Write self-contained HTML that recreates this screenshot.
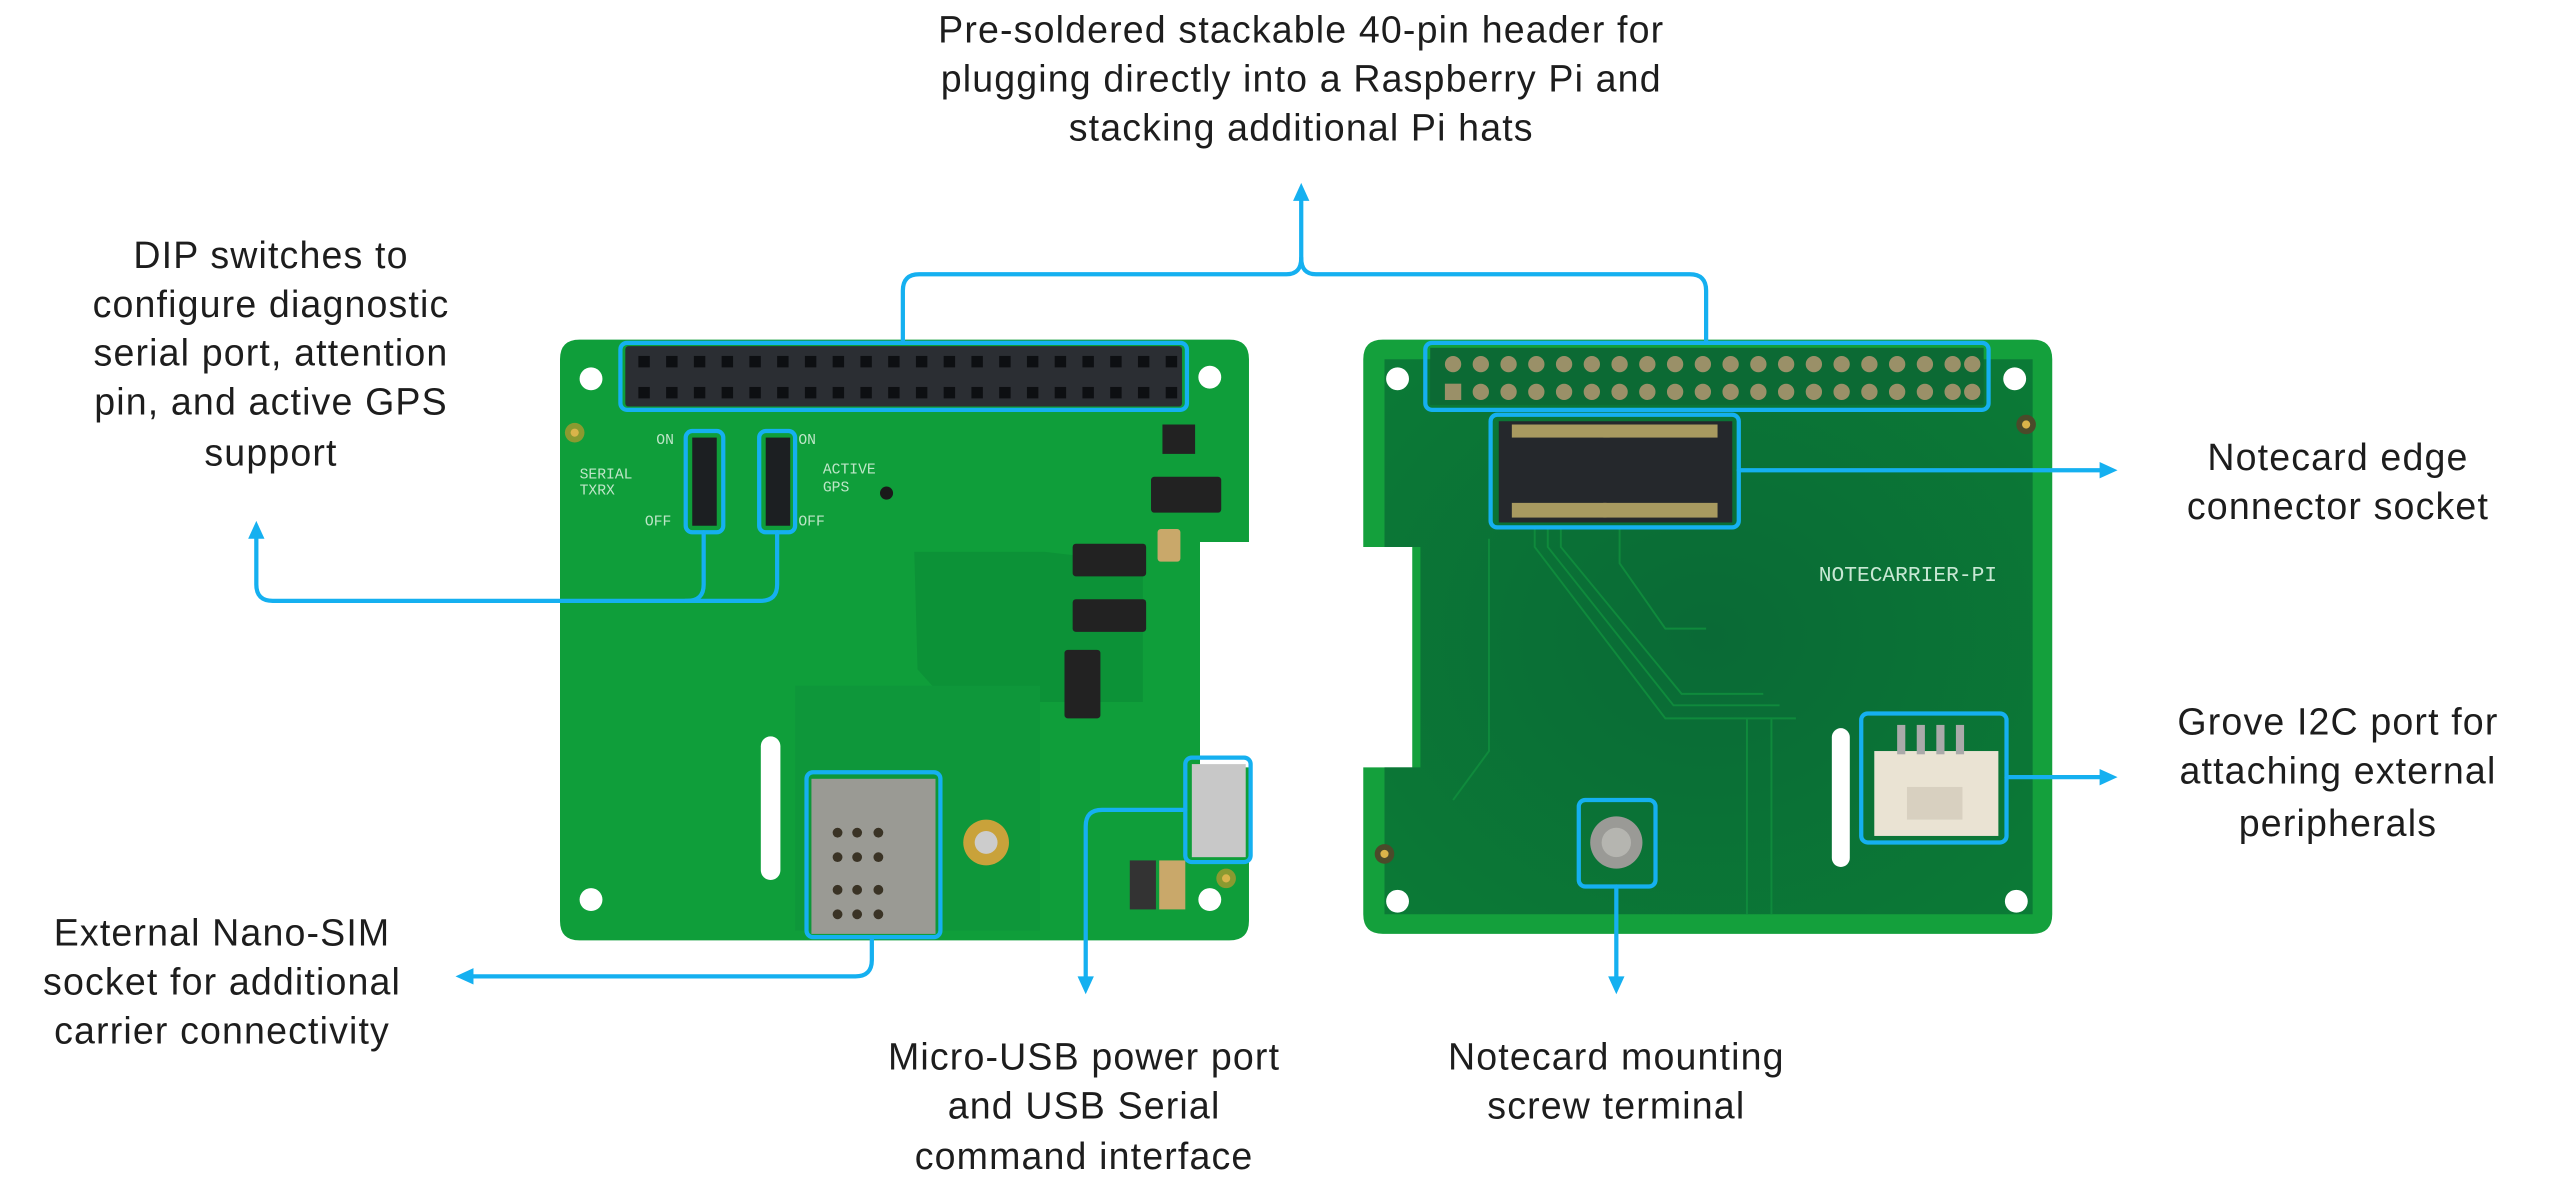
<!DOCTYPE html>
<html><head><meta charset="utf-8"><style>
html,body{margin:0;padding:0;background:#fff;}
svg{display:block;}
text{font-family:"Liberation Sans",sans-serif;fill:#1d1d1d;}
</style></head><body>
<svg width="2560" height="1178" viewBox="0 0 1568 721.5" xmlns="http://www.w3.org/2000/svg">
<defs>
<radialGradient id="rg" cx="50%" cy="50%" r="70%"><stop offset="0" stop-color="#0a6a36"/><stop offset="1" stop-color="#0b7a36"/></radialGradient>
</defs>
<!-- LEFT BOARD -->
<path d="M355,208 H753 Q765,208 765,220 V332 H735 V470 H765 V564 Q765,576 753,576 H355 Q343,576 343,564 V220 Q343,208 355,208 Z" fill="#0f9e3a"/>
<path d="M560,338 H640 L700,345 V430 H580 L562,410 Z" fill="#0c9237"/>
<rect x="487" y="420" width="150" height="150" fill="#0e973a"/>
<rect x="383" y="212" width="341" height="37" rx="2" fill="#2b2e33"/>
<g fill="#0d0f12">
<rect x="391" y="218" width="7" height="7"/><rect x="408" y="218" width="7" height="7"/><rect x="425" y="218" width="7" height="7"/><rect x="442" y="218" width="7" height="7"/><rect x="459" y="218" width="7" height="7"/><rect x="476" y="218" width="7" height="7"/><rect x="493" y="218" width="7" height="7"/><rect x="510" y="218" width="7" height="7"/><rect x="527" y="218" width="7" height="7"/><rect x="544" y="218" width="7" height="7"/><rect x="561" y="218" width="7" height="7"/><rect x="578" y="218" width="7" height="7"/><rect x="595" y="218" width="7" height="7"/><rect x="612" y="218" width="7" height="7"/><rect x="629" y="218" width="7" height="7"/><rect x="646" y="218" width="7" height="7"/><rect x="663" y="218" width="7" height="7"/><rect x="680" y="218" width="7" height="7"/><rect x="697" y="218" width="7" height="7"/><rect x="714" y="218" width="7" height="7"/>
<rect x="391" y="237" width="7" height="7"/><rect x="408" y="237" width="7" height="7"/><rect x="425" y="237" width="7" height="7"/><rect x="442" y="237" width="7" height="7"/><rect x="459" y="237" width="7" height="7"/><rect x="476" y="237" width="7" height="7"/><rect x="493" y="237" width="7" height="7"/><rect x="510" y="237" width="7" height="7"/><rect x="527" y="237" width="7" height="7"/><rect x="544" y="237" width="7" height="7"/><rect x="561" y="237" width="7" height="7"/><rect x="578" y="237" width="7" height="7"/><rect x="595" y="237" width="7" height="7"/><rect x="612" y="237" width="7" height="7"/><rect x="629" y="237" width="7" height="7"/><rect x="646" y="237" width="7" height="7"/><rect x="663" y="237" width="7" height="7"/><rect x="680" y="237" width="7" height="7"/><rect x="697" y="237" width="7" height="7"/><rect x="714" y="237" width="7" height="7"/>
</g>
<g fill="#fff"><circle cx="362" cy="232" r="7"/><circle cx="741" cy="231" r="7"/><circle cx="362" cy="551" r="7"/><circle cx="741" cy="551" r="7"/><rect x="466" y="451" width="12" height="88" rx="6"/></g>
<circle cx="352" cy="265" r="6" fill="#8a9a30"/><circle cx="352" cy="265" r="2.5" fill="#d9b44a"/>
<circle cx="751" cy="538" r="6" fill="#8a9a30"/><circle cx="751" cy="538" r="2.5" fill="#d9b44a"/>
<rect x="424" y="268" width="15" height="54" fill="#1c1f22"/><rect x="469" y="268" width="15" height="54" fill="#1c1f22"/>
<g font-size="9"><text x="402" y="272" style="fill:#bfe6c8;font-family:'Liberation Mono'">ON</text><text x="489" y="272" style="fill:#bfe6c8;font-family:'Liberation Mono'">ON</text><text x="355" y="293" style="fill:#bfe6c8;font-family:'Liberation Mono'">SERIAL</text><text x="355" y="303" style="fill:#bfe6c8;font-family:'Liberation Mono'">TXRX</text><text x="504" y="290" style="fill:#bfe6c8;font-family:'Liberation Mono'">ACTIVE</text><text x="504" y="301" style="fill:#bfe6c8;font-family:'Liberation Mono'">GPS</text><text x="395" y="322" style="fill:#bfe6c8;font-family:'Liberation Mono'">OFF</text><text x="489" y="322" style="fill:#bfe6c8;font-family:'Liberation Mono'">OFF</text></g>
<circle cx="543" cy="302" r="4" fill="#1a1a1a"/>
<g fill="#222"><rect x="657" y="333" width="45" height="20" rx="2"/><rect x="657" y="367" width="45" height="20" rx="2"/><rect x="652" y="398" width="22" height="42" rx="2"/><rect x="705" y="292" width="43" height="22" rx="2"/><rect x="712" y="260" width="20" height="18"/></g>
<rect x="709" y="324" width="14" height="20" rx="2" fill="#c9a86a"/>
<rect x="497" y="477" width="76" height="95" fill="#9a9a94"/>
<g fill="#3a3325"><circle cx="513" cy="510" r="3"/><circle cx="525" cy="510" r="3"/><circle cx="538" cy="510" r="3"/><circle cx="513" cy="525" r="3"/><circle cx="525" cy="525" r="3"/><circle cx="538" cy="525" r="3"/><circle cx="513" cy="545" r="3"/><circle cx="525" cy="545" r="3"/><circle cx="538" cy="545" r="3"/><circle cx="513" cy="560" r="3"/><circle cx="525" cy="560" r="3"/><circle cx="538" cy="560" r="3"/></g>
<circle cx="604" cy="516" r="14" fill="#c9a23a"/><circle cx="604" cy="516" r="7" fill="#ccc"/>
<rect x="730" y="468" width="33" height="57" fill="#c8c8c8"/>
<rect x="692" y="527" width="16" height="30" fill="#333"/><rect x="710" y="527" width="16" height="30" fill="#c9a86a"/>
<!-- RIGHT BOARD -->
<path d="M847,208 H1245 Q1257,208 1257,220 V560 Q1257,572 1245,572 H847 Q835,572 835,560 V470 H865 V335 H835 V220 Q835,208 847,208 Z" fill="#14a03c"/>
<path d="M848,220 H1245 V560 H848 V470 H870 V335 H848 Z" fill="url(#rg)"/>
<rect x="876" y="213" width="339" height="35" fill="#0c6a34"/>
<g fill="#9a9068">
<circle cx="890" cy="223" r="5"/><circle cx="907" cy="223" r="5"/><circle cx="924" cy="223" r="5"/><circle cx="941" cy="223" r="5"/><circle cx="958" cy="223" r="5"/><circle cx="975" cy="223" r="5"/><circle cx="992" cy="223" r="5"/><circle cx="1009" cy="223" r="5"/><circle cx="1026" cy="223" r="5"/><circle cx="1043" cy="223" r="5"/><circle cx="1060" cy="223" r="5"/><circle cx="1077" cy="223" r="5"/><circle cx="1094" cy="223" r="5"/><circle cx="1111" cy="223" r="5"/><circle cx="1128" cy="223" r="5"/><circle cx="1145" cy="223" r="5"/><circle cx="1162" cy="223" r="5"/><circle cx="1179" cy="223" r="5"/><circle cx="1196" cy="223" r="5"/><circle cx="1208" cy="223" r="5"/>
<rect x="885" y="235" width="10" height="10"/><circle cx="907" cy="240" r="5"/><circle cx="924" cy="240" r="5"/><circle cx="941" cy="240" r="5"/><circle cx="958" cy="240" r="5"/><circle cx="975" cy="240" r="5"/><circle cx="992" cy="240" r="5"/><circle cx="1009" cy="240" r="5"/><circle cx="1026" cy="240" r="5"/><circle cx="1043" cy="240" r="5"/><circle cx="1060" cy="240" r="5"/><circle cx="1077" cy="240" r="5"/><circle cx="1094" cy="240" r="5"/><circle cx="1111" cy="240" r="5"/><circle cx="1128" cy="240" r="5"/><circle cx="1145" cy="240" r="5"/><circle cx="1162" cy="240" r="5"/><circle cx="1179" cy="240" r="5"/><circle cx="1196" cy="240" r="5"/><circle cx="1208" cy="240" r="5"/>
</g>
<rect x="918" y="258" width="143" height="62" fill="#25282c"/>
<rect x="926" y="260" width="60" height="8" fill="#a89a60"/><rect x="982" y="260" width="70" height="8" fill="#a89a60"/>
<rect x="926" y="308" width="58" height="9" fill="#a89a60"/><rect x="982" y="308" width="70" height="9" fill="#a89a60"/>
<g fill="none" stroke="#0f8a3c" stroke-width="1.2">
<path d="M940,323 V335 L1020,440 H1100"/><path d="M948,323 V335 L1025,432 H1090"/><path d="M956,323 V335 L1030,425 H1080"/><path d="M992,323 V345 L1020,385 H1045"/>
<path d="M912,330 V460 L890,490"/><path d="M1070,440 V560"/><path d="M1085,440 V560"/>
</g>
<text x="1114" y="356" font-size="13" style="fill:#c8e8d4;font-family:'Liberation Mono'">NOTECARRIER-PI</text>
<g fill="#fff"><circle cx="856" cy="232" r="7"/><circle cx="1234" cy="232" r="7"/><circle cx="856" cy="552" r="7"/><circle cx="1235" cy="552" r="7"/><rect x="1122" y="446" width="11" height="85" rx="5.5"/></g>
<circle cx="1241" cy="260" r="6" fill="#4b4a2a"/><circle cx="1241" cy="260" r="2.5" fill="#d9b44a"/>
<circle cx="848" cy="523" r="6" fill="#4b4a2a"/><circle cx="848" cy="523" r="2.5" fill="#d9b44a"/>
<circle cx="990" cy="516" r="16" fill="#9a9a96"/><circle cx="990" cy="516" r="9" fill="#b5b5b0"/>
<rect x="1148" y="460" width="76" height="52" fill="#eae3d3"/>
<g fill="#aaa"><rect x="1162" y="444" width="5" height="18"/><rect x="1174" y="444" width="5" height="18"/><rect x="1186" y="444" width="5" height="18"/><rect x="1198" y="444" width="5" height="18"/></g>
<rect x="1168" y="482" width="34" height="20" fill="#d8d0c0"/>
<!-- BLUE ANNOTATIONS -->
<g fill="none" stroke="#15b0f0" stroke-width="2.6" stroke-linejoin="round" stroke-linecap="round">
<rect x="380" y="210" width="347" height="41" rx="4"/>
<rect x="420" y="264" width="23" height="62" rx="4"/>
<rect x="465" y="264" width="22" height="62" rx="4"/>
<rect x="494" y="473" width="82" height="101" rx="4"/>
<rect x="726" y="464" width="40" height="64" rx="4"/>
<rect x="873" y="210" width="345" height="41" rx="4"/>
<rect x="913" y="254" width="152" height="69" rx="4"/>
<rect x="967" y="490" width="47" height="53" rx="4"/>
<rect x="1140" y="437" width="89" height="79" rx="4"/>
<path d="M553,210 V178 Q553,168 563,168 H788 Q797,168 797,158 V120"/>
<path d="M1045,210 V178 Q1045,168 1035,168 H806 Q797,168 797,158"/>
<path d="M431,326 V358 Q431,368 421,368 H167 Q157,368 157,358 V326"/>
<path d="M476,326 V358 Q476,368 466,368 H420"/>
<path d="M534,574 V588 Q534,598 524,598 H286"/>
<path d="M726,496 H675 Q665,496 665,506 V602"/>
<path d="M990,543 V602"/>
<path d="M1065,288 H1290"/>
<path d="M1229,476 H1290"/>
</g>
<g fill="#15b0f0">
<path d="M797,112 L792,123 H802 Z"/>
<path d="M157,319 L152,330 H162 Z"/>
<path d="M279,598 L290,593 V603 Z"/>
<path d="M665,609 L660,598 H670 Z"/>
<path d="M990,609 L985,598 H995 Z"/>
<path d="M1297,288 L1286,283 V293 Z"/>
<path d="M1297,476 L1286,471 V481 Z"/>
</g>
<!-- LABELS -->
<g font-size="23" text-anchor="middle" letter-spacing="0.7">
<text x="797" y="26">Pre-soldered stackable 40-pin header for</text>
<text x="797" y="56">plugging directly into a Raspberry Pi and</text>
<text x="797" y="86">stacking additional Pi hats</text>
<text x="166" y="164">DIP switches to</text>
<text x="166" y="194">configure diagnostic</text>
<text x="166" y="224">serial port, attention</text>
<text x="166" y="254">pin, and active GPS</text>
<text x="166" y="285">support</text>
<text x="136" y="579">External Nano-SIM</text>
<text x="136" y="609">socket for additional</text>
<text x="136" y="639">carrier connectivity</text>
<text x="664" y="655">Micro-USB power port</text>
<text x="664" y="685">and USB Serial</text>
<text x="664" y="716">command interface</text>
<text x="990" y="655">Notecard mounting</text>
<text x="990" y="685">screw terminal</text>
<text x="1432" y="288">Notecard edge</text>
<text x="1432" y="318">connector socket</text>
<text x="1432" y="450">Grove I2C port for</text>
<text x="1432" y="480">attaching external</text>
<text x="1432" y="512">peripherals</text>
</g>
</svg>
</body></html>
